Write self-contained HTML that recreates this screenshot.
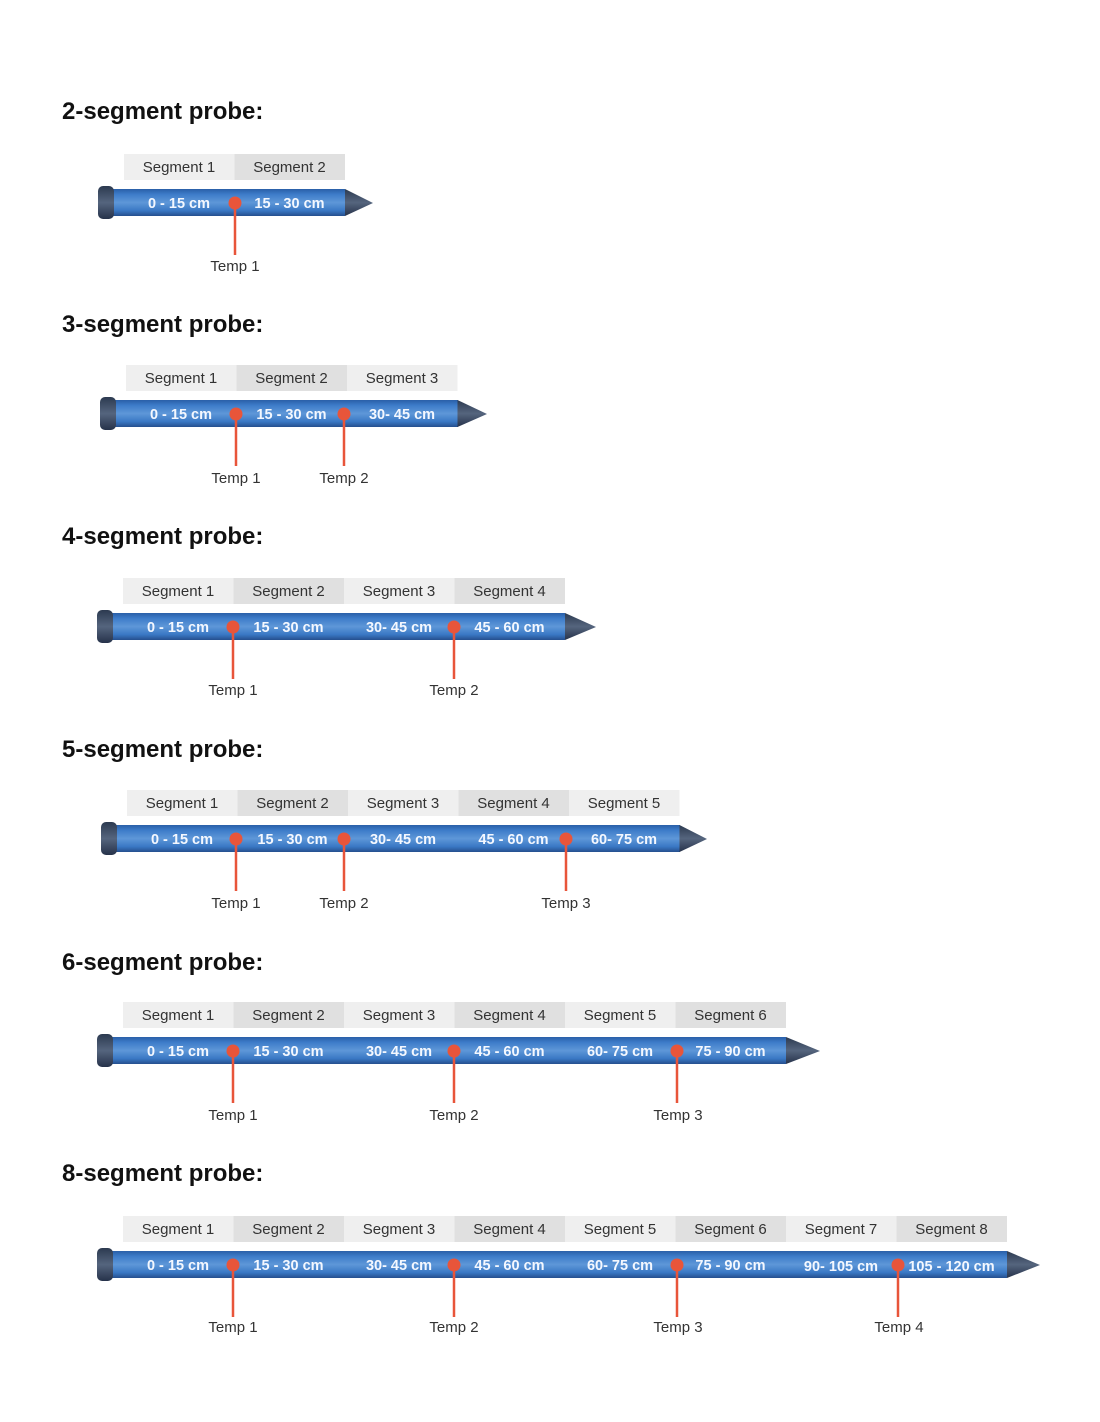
<!DOCTYPE html>
<html><head><meta charset="utf-8"><style>
html,body{margin:0;padding:0;background:#fff;width:1100px;height:1422px;overflow:hidden}
svg{display:block}
.t{font-family:"Liberation Sans",sans-serif;font-weight:bold;font-size:24px;fill:#111}
.h{font-family:"Liberation Sans",sans-serif;font-size:15px;fill:#333;text-anchor:middle}
.r{font-family:"Liberation Sans",sans-serif;font-size:14.5px;fill:#f4f8ff;text-anchor:middle;font-weight:bold}
.l{font-family:"Liberation Sans",sans-serif;font-size:15px;fill:#333;text-anchor:middle}
.o{fill:#efefef}.e{fill:#e0e0e0}
</style></head><body>
<svg width="1100" height="1422" xmlns="http://www.w3.org/2000/svg">
<defs>
<linearGradient id="b" x1="0" y1="0" x2="0" y2="1">
<stop offset="0" stop-color="#2a5fa8"/><stop offset="0.2" stop-color="#3d7cc9"/>
<stop offset="0.5" stop-color="#5e97d8"/><stop offset="0.8" stop-color="#3a78c4"/>
<stop offset="1" stop-color="#254f8e"/></linearGradient>
<linearGradient id="c" x1="0" y1="0" x2="0" y2="1">
<stop offset="0" stop-color="#2c3a50"/><stop offset="0.5" stop-color="#55657e"/><stop offset="1" stop-color="#26324a"/></linearGradient>
</defs>
<text class="t" x="62" y="119">2-segment probe:</text>
<text class="t" x="62" y="332">3-segment probe:</text>
<text class="t" x="62" y="544">4-segment probe:</text>
<text class="t" x="62" y="757">5-segment probe:</text>
<text class="t" x="62" y="970">6-segment probe:</text>
<text class="t" x="62" y="1181">8-segment probe:</text>

<!-- 2 -->
<g transform="translate(124,203)">
<rect class="o" x="0" y="-49" width="110.5" height="26"/><rect class="e" x="110.5" y="-49" width="110.5" height="26"/>
<text class="h" x="55" y="-31">Segment 1</text><text class="h" x="165.5" y="-31">Segment 2</text>
<rect x="-18" y="-14" width="239" height="27" fill="url(#b)"/>
<polygon points="221,-14 249,0 221,13" fill="url(#c)"/>
<rect x="-26" y="-17" width="16" height="33" rx="5" fill="url(#c)"/>
<text class="r" x="55" y="5">0 - 15 cm</text><text class="r" x="165.5" y="5">15 - 30 cm</text>
<line x1="111" y1="0" x2="111" y2="52" stroke="#e8553a" stroke-width="2.5"/><circle cx="111" cy="0" r="6.5" fill="#e8553a"/>
<text class="l" x="111" y="68">Temp 1</text>
</g>

<!-- 3 -->
<g transform="translate(126,414)">
<rect class="o" x="0" y="-49" width="110.5" height="26"/><rect class="e" x="110.5" y="-49" width="110.5" height="26"/><rect class="o" x="221" y="-49" width="110.5" height="26"/>
<text class="h" x="55" y="-31">Segment 1</text><text class="h" x="165.5" y="-31">Segment 2</text><text class="h" x="276" y="-31">Segment 3</text>
<rect x="-18" y="-14" width="350" height="27" fill="url(#b)"/>
<polygon points="331.5,-14 361,0 331.5,13" fill="url(#c)"/>
<rect x="-26" y="-17" width="16" height="33" rx="5" fill="url(#c)"/>
<text class="r" x="55" y="5">0 - 15 cm</text><text class="r" x="165.5" y="5">15 - 30 cm</text><text class="r" x="276" y="5">30- 45 cm</text>
<line x1="110" y1="0" x2="110" y2="52" stroke="#e8553a" stroke-width="2.5"/><circle cx="110" cy="0" r="6.5" fill="#e8553a"/>
<line x1="218" y1="0" x2="218" y2="52" stroke="#e8553a" stroke-width="2.5"/><circle cx="218" cy="0" r="6.5" fill="#e8553a"/>
<text class="l" x="110" y="69">Temp 1</text><text class="l" x="218" y="69">Temp 2</text>
</g>

<!-- 4 -->
<g transform="translate(123,627)">
<rect class="o" x="0" y="-49" width="110.5" height="26"/><rect class="e" x="110.5" y="-49" width="110.5" height="26"/><rect class="o" x="221" y="-49" width="110.5" height="26"/><rect class="e" x="331.5" y="-49" width="110.5" height="26"/>
<text class="h" x="55" y="-31">Segment 1</text><text class="h" x="165.5" y="-31">Segment 2</text><text class="h" x="276" y="-31">Segment 3</text><text class="h" x="386.5" y="-31">Segment 4</text>
<rect x="-18" y="-14" width="460" height="27" fill="url(#b)"/>
<polygon points="442,-14 473,0 442,13" fill="url(#c)"/>
<rect x="-26" y="-17" width="16" height="33" rx="5" fill="url(#c)"/>
<text class="r" x="55" y="5">0 - 15 cm</text><text class="r" x="165.5" y="5">15 - 30 cm</text><text class="r" x="276" y="5">30- 45 cm</text><text class="r" x="386.5" y="5">45 - 60 cm</text>
<line x1="110" y1="0" x2="110" y2="52" stroke="#e8553a" stroke-width="2.5"/><circle cx="110" cy="0" r="6.5" fill="#e8553a"/>
<line x1="331" y1="0" x2="331" y2="52" stroke="#e8553a" stroke-width="2.5"/><circle cx="331" cy="0" r="6.5" fill="#e8553a"/>
<text class="l" x="110" y="68">Temp 1</text><text class="l" x="331" y="68">Temp 2</text>
</g>

<!-- 5 -->
<g transform="translate(127,839)">
<rect class="o" x="0" y="-49" width="110.5" height="26"/><rect class="e" x="110.5" y="-49" width="110.5" height="26"/><rect class="o" x="221" y="-49" width="110.5" height="26"/><rect class="e" x="331.5" y="-49" width="110.5" height="26"/><rect class="o" x="442" y="-49" width="110.5" height="26"/>
<text class="h" x="55" y="-31">Segment 1</text><text class="h" x="165.5" y="-31">Segment 2</text><text class="h" x="276" y="-31">Segment 3</text><text class="h" x="386.5" y="-31">Segment 4</text><text class="h" x="497" y="-31">Segment 5</text>
<rect x="-18" y="-14" width="571" height="27" fill="url(#b)"/>
<polygon points="552.5,-14 580,0 552.5,13" fill="url(#c)"/>
<rect x="-26" y="-17" width="16" height="33" rx="5" fill="url(#c)"/>
<text class="r" x="55" y="5">0 - 15 cm</text><text class="r" x="165.5" y="5">15 - 30 cm</text><text class="r" x="276" y="5">30- 45 cm</text><text class="r" x="386.5" y="5">45 - 60 cm</text><text class="r" x="497" y="5">60- 75 cm</text>
<line x1="109" y1="0" x2="109" y2="52" stroke="#e8553a" stroke-width="2.5"/><circle cx="109" cy="0" r="6.5" fill="#e8553a"/>
<line x1="217" y1="0" x2="217" y2="52" stroke="#e8553a" stroke-width="2.5"/><circle cx="217" cy="0" r="6.5" fill="#e8553a"/>
<line x1="439" y1="0" x2="439" y2="52" stroke="#e8553a" stroke-width="2.5"/><circle cx="439" cy="0" r="6.5" fill="#e8553a"/>
<text class="l" x="109" y="69">Temp 1</text><text class="l" x="217" y="69">Temp 2</text><text class="l" x="439" y="69">Temp 3</text>
</g>

<!-- 6 -->
<g transform="translate(123,1051)">
<rect class="o" x="0" y="-49" width="110.5" height="26"/><rect class="e" x="110.5" y="-49" width="110.5" height="26"/><rect class="o" x="221" y="-49" width="110.5" height="26"/><rect class="e" x="331.5" y="-49" width="110.5" height="26"/><rect class="o" x="442" y="-49" width="110.5" height="26"/><rect class="e" x="552.5" y="-49" width="110.5" height="26"/>
<text class="h" x="55" y="-31">Segment 1</text><text class="h" x="165.5" y="-31">Segment 2</text><text class="h" x="276" y="-31">Segment 3</text><text class="h" x="386.5" y="-31">Segment 4</text><text class="h" x="497" y="-31">Segment 5</text><text class="h" x="607.5" y="-31">Segment 6</text>
<rect x="-18" y="-14" width="681" height="27" fill="url(#b)"/>
<polygon points="663,-14 697,0 663,13" fill="url(#c)"/>
<rect x="-26" y="-17" width="16" height="33" rx="5" fill="url(#c)"/>
<text class="r" x="55" y="5">0 - 15 cm</text><text class="r" x="165.5" y="5">15 - 30 cm</text><text class="r" x="276" y="5">30- 45 cm</text><text class="r" x="386.5" y="5">45 - 60 cm</text><text class="r" x="497" y="5">60- 75 cm</text><text class="r" x="607.5" y="5">75 - 90 cm</text>
<line x1="110" y1="0" x2="110" y2="52" stroke="#e8553a" stroke-width="2.5"/><circle cx="110" cy="0" r="6.5" fill="#e8553a"/>
<line x1="331" y1="0" x2="331" y2="52" stroke="#e8553a" stroke-width="2.5"/><circle cx="331" cy="0" r="6.5" fill="#e8553a"/>
<line x1="554" y1="0" x2="554" y2="52" stroke="#e8553a" stroke-width="2.5"/><circle cx="554" cy="0" r="6.5" fill="#e8553a"/>
<text class="l" x="110" y="69">Temp 1</text><text class="l" x="331" y="69">Temp 2</text><text class="l" x="555" y="69">Temp 3</text>
</g>

<!-- 8 -->
<g transform="translate(123,1265)">
<rect class="o" x="0" y="-49" width="110.5" height="26"/><rect class="e" x="110.5" y="-49" width="110.5" height="26"/><rect class="o" x="221" y="-49" width="110.5" height="26"/><rect class="e" x="331.5" y="-49" width="110.5" height="26"/><rect class="o" x="442" y="-49" width="110.5" height="26"/><rect class="e" x="552.5" y="-49" width="110.5" height="26"/><rect class="o" x="663" y="-49" width="110.5" height="26"/><rect class="e" x="773.5" y="-49" width="110.5" height="26"/>
<text class="h" x="55" y="-31">Segment 1</text><text class="h" x="165.5" y="-31">Segment 2</text><text class="h" x="276" y="-31">Segment 3</text><text class="h" x="386.5" y="-31">Segment 4</text><text class="h" x="497" y="-31">Segment 5</text><text class="h" x="607.5" y="-31">Segment 6</text><text class="h" x="718" y="-31">Segment 7</text><text class="h" x="828.5" y="-31">Segment 8</text>
<rect x="-18" y="-14" width="902" height="27" fill="url(#b)"/>
<polygon points="884,-14 917,0 884,13" fill="url(#c)"/>
<rect x="-26" y="-17" width="16" height="33" rx="5" fill="url(#c)"/>
<text class="r" x="55" y="5">0 - 15 cm</text><text class="r" x="165.5" y="5">15 - 30 cm</text><text class="r" x="276" y="5">30- 45 cm</text><text class="r" x="386.5" y="5">45 - 60 cm</text><text class="r" x="497" y="5">60- 75 cm</text><text class="r" x="607.5" y="5">75 - 90 cm</text><text class="r" x="718" y="6">90- 105 cm</text><text class="r" x="828.5" y="6">105 - 120 cm</text>
<line x1="110" y1="0" x2="110" y2="52" stroke="#e8553a" stroke-width="2.5"/><circle cx="110" cy="0" r="6.5" fill="#e8553a"/>
<line x1="331" y1="0" x2="331" y2="52" stroke="#e8553a" stroke-width="2.5"/><circle cx="331" cy="0" r="6.5" fill="#e8553a"/>
<line x1="554" y1="0" x2="554" y2="52" stroke="#e8553a" stroke-width="2.5"/><circle cx="554" cy="0" r="6.5" fill="#e8553a"/>
<line x1="775" y1="0" x2="775" y2="52" stroke="#e8553a" stroke-width="2.5"/><circle cx="775" cy="0" r="6.5" fill="#e8553a"/>
<text class="l" x="110" y="67">Temp 1</text><text class="l" x="331" y="67">Temp 2</text><text class="l" x="555" y="67">Temp 3</text><text class="l" x="776" y="67">Temp 4</text>
</g>
</svg>
</body></html>
